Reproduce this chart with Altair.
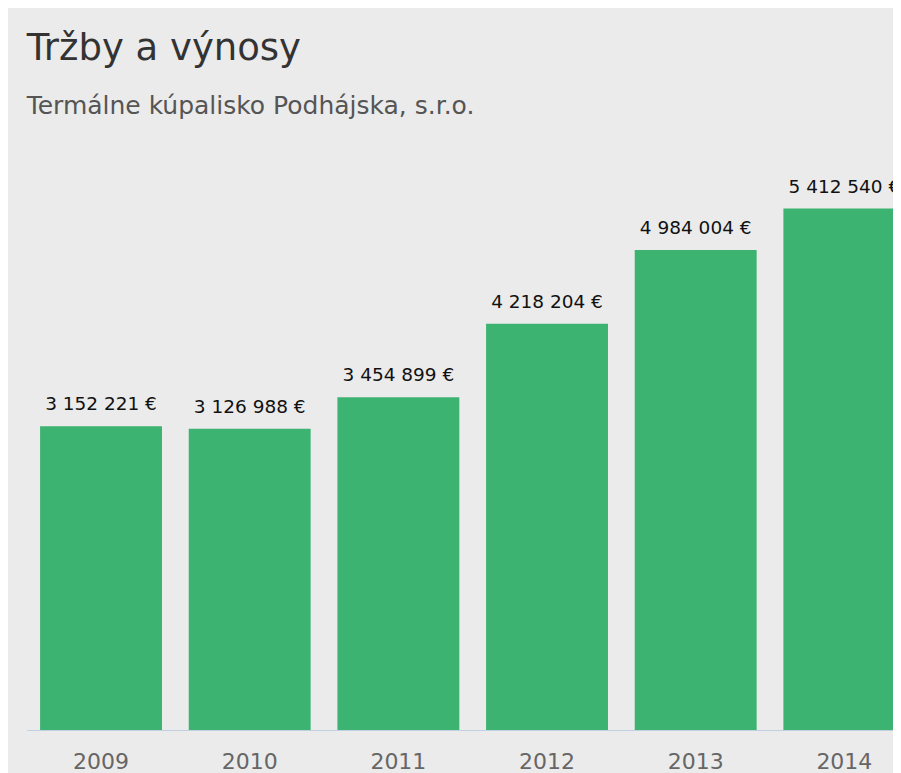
import altair as alt
import pandas as pd

years = ["2009", "2010", "2011", "2012", "2013", "2014"]
revenues = [3152221, 3126988, 3454899, 4218204, 4984004, 5412540]

df = pd.DataFrame({"year": years, "value": revenues})
df["label"] = [f"{v:,}".replace(",", " ") + " €" for v in revenues]

x = alt.X("year:N", sort=years, title=None,
          scale=alt.Scale(paddingInner=0.18, paddingOuter=0.09, range=[0, 892]),
          axis=alt.Axis(labelAngle=0, labelFont="DejaVu Sans", labelFontSize=22,
                        labelColor="#666666", labelPadding=22, ticks=False,
                        domainColor="#c0d0e0", domainWidth=1, grid=False))
y = alt.Y("value:Q", axis=None, scale=alt.Scale(domain=[0, 6000000], nice=False))

bars = alt.Chart(df).mark_bar(color="#3cb371").encode(x=x, y=y)
labels = alt.Chart(df).mark_text(baseline="alphabetic", dy=-16, font="DejaVu Sans",
                                 fontSize=18.5, color="#111111").encode(
    x=x, y=y, text="label:N")

chart = alt.layer(bars, labels).properties(
    width=866, height=578,
    background="#ebebeb",
    autosize=alt.AutoSizeParams(type="none"),
    padding={"left": 18.7, "top": 144, "right": 0, "bottom": 43},
    title=alt.TitleParams(
        text="Tržby a výnosy",
        subtitle="Termálne kúpalisko Podhájska, s.r.o.",
        anchor="start", font="DejaVu Sans", fontSize=37, fontWeight="normal",
        color="#333333", subtitleFont="DejaVu Sans", subtitleFontSize=25,
        subtitleColor="#555555", subtitlePadding=26, offset=32),
).configure_view(stroke=None)

chart.save("out.html", embed_options={"renderer": "svg", "actions": False})
